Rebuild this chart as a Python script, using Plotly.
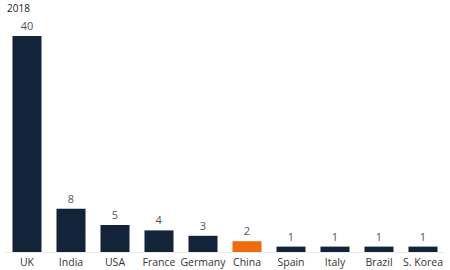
import plotly.graph_objects as go

countries = ["UK", "India", "USA", "France", "Germany", "China", "Spain", "Italy", "Brazil", "S. Korea"]
values = [40, 8, 5, 4, 3, 2, 1, 1, 1, 1]
highlight = "China"

navy = "#13233a"
orange = "#ee6c0c"
colors = [orange if c == highlight else navy for c in countries]

fig = go.Figure(go.Bar(
    x=countries, y=values,
    marker=dict(color=colors, line=dict(width=0)),
    text=[str(v) for v in values],
    textposition="outside",
    textfont=dict(color="#555555", size=11, family="Open Sans"),
    cliponaxis=False,
))

fig.update_layout(
    width=450, height=270,
    margin=dict(l=5, r=5, t=36, b=18),
    paper_bgcolor="white", plot_bgcolor="white",
    bargap=0.34,
    showlegend=False,
    font=dict(family="Open Sans", size=10, color="#333333"),
    xaxis=dict(showgrid=False, showline=True, linecolor="#ebebeb", linewidth=1,
               ticks="", automargin=False,
               tickfont=dict(size=10.5, color="#333333")),
    yaxis=dict(range=[0, 40], visible=False, showgrid=False, zeroline=False, automargin=False),
    annotations=[dict(text="2018", xref="paper", yref="paper", x=0, y=1,
                      xanchor="left", yanchor="bottom", yshift=19, showarrow=False,
                      font=dict(size=10, color="#222222"))],
)

fig.write_html("out.html")
